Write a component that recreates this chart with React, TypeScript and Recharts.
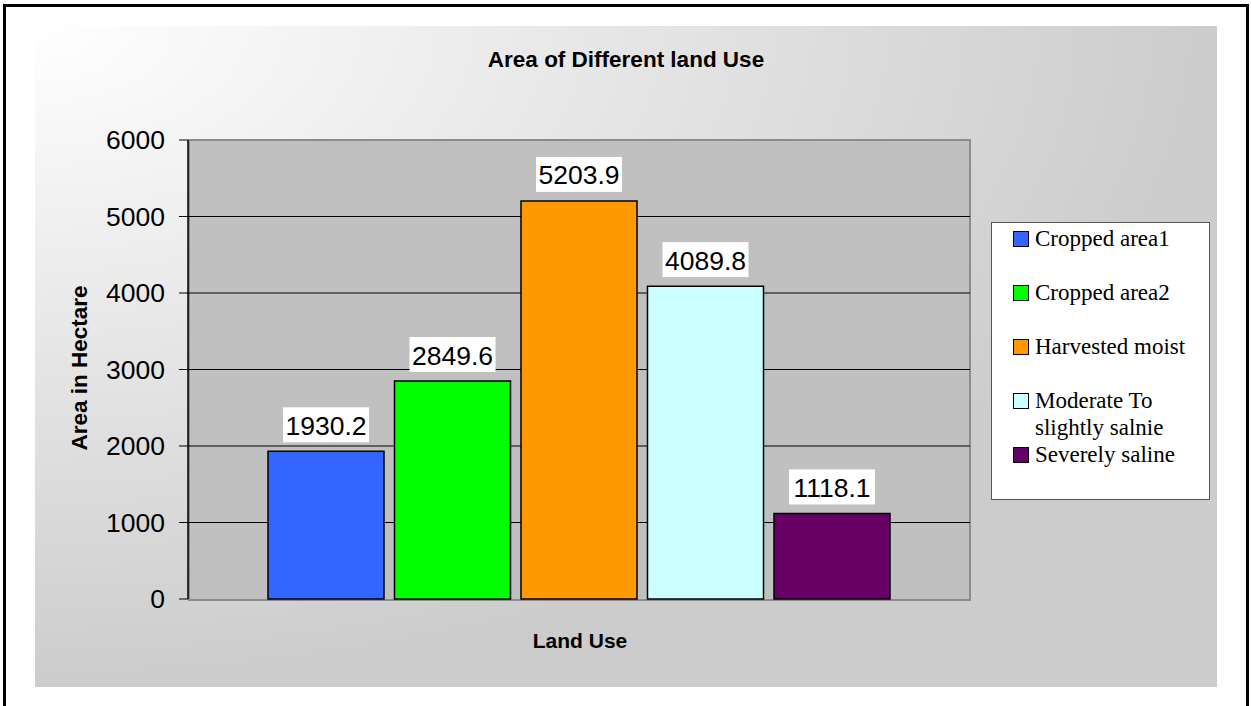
import { BarChart, Bar, XAxis, YAxis, CartesianGrid, Legend, LabelList } from "recharts";

// Chart data
const CATEGORIES = ["Land Use"];
const SERIES_NAMES = [
  "Cropped area1",
  "Cropped area2",
  "Harvested moist",
  "Moderate To slightly salnie",
  "Severely saline",
];
const SERIES_VALUES = [1930.2, 2849.6, 5203.9, 4089.8, 1118.1];
const SERIES_COLORS = ["#3366ff", "#00ff00", "#ff9900", "#ccffff", "#660066"];
const Y_TICKS = [0, 1000, 2000, 3000, 4000, 5000, 6000];

const WIDTH = 1251;
const HEIGHT = 706;
const SANS = '"Liberation Sans", Arial, sans-serif';
const SERIF = '"Liberation Serif", "Times New Roman", serif';

const data = CATEGORIES.map((name) => {
  const row: Record<string, string | number> = { name };
  SERIES_VALUES.forEach((v, i) => {
    row[`s${i}`] = v;
  });
  return row;
});

// white box with the value, sitting above the bar
function ValueLabel(props: any) {
  const { x, y, width, value } = props;
  const cx = Number(x) + Number(width) / 2;
  const boxW = 86;
  const boxH = 35;
  const top = Number(y) - 9 - boxH;
  return (
    <g>
      <rect x={cx - boxW / 2} y={top} width={boxW} height={boxH} fill="#ffffff" />
      <text
        x={cx}
        y={top + boxH / 2 + 1}
        textAnchor="middle"
        dominantBaseline="central"
        fontFamily={SANS}
        fontSize={26.5}
        fill="#000"
      >
        {value}
      </text>
    </g>
  );
}

function LegendBox() {
  return (
    <div
      style={{
        boxSizing: "border-box",
        width: 219,
        height: 278,
        background: "#fff",
        border: "1px solid #555",
        padding: "2px 8px 0 21px",
        fontFamily: SERIF,
        fontSize: 23,
        lineHeight: "27px",
        color: "#000",
      }}
    >
      {SERIES_NAMES.map((name, i) => (
        <div
          key={name}
          style={{
            display: "flex",
            alignItems: "flex-start",
            marginBottom: i < 3 ? 27 : 0,
          }}
        >
          <span
            style={{
              boxSizing: "border-box",
              flex: "0 0 16px",
              width: 16,
              height: 16,
              marginTop: 6,
              marginRight: 6,
              background: SERIES_COLORS[i],
              border: "1.5px solid #000",
            }}
          />
          <span style={{ width: 160 }}>{name}</span>
        </div>
      ))}
    </div>
  );
}

export default function App() {
  return (
    <div
      style={{
        position: "absolute",
        left: 0,
        top: 0,
        width: WIDTH,
        height: HEIGHT,
        background: "#fff",
        overflow: "hidden",
      }}
    >
      {/* outer frame */}
      <div
        style={{
          position: "absolute",
          left: 3,
          top: 4,
          width: 1246,
          height: 720,
          border: "3px solid #000",
          boxSizing: "border-box",
        }}
      />
      {/* chart area gradient */}
      <div
        style={{
          position: "absolute",
          left: 35,
          top: 26,
          width: 1182,
          height: 661,
          background: "radial-gradient(100% 100% at 0% 0%, #ffffff 0%, #cccccc 100%)",
        }}
      />
      {/* plot area */}
      <div
        style={{
          position: "absolute",
          left: 188,
          top: 139,
          width: 783,
          height: 462,
          background: "#c0c0c0",
          border: "2px solid #8c8c8c",
          boxSizing: "border-box",
        }}
      />

      <div style={{ position: "absolute", left: 0, top: 0 }}>
        <BarChart
          width={WIDTH}
          height={HEIGHT}
          data={data}
          margin={{ top: 140, right: 281, bottom: 107, left: 38 }}
          barCategoryGap={80}
          barGap={10.5}
        >
          <CartesianGrid
            vertical={false}
            horizontalValues={Y_TICKS.slice(1, -1)}
            stroke="#000"
            strokeWidth={1}
          />
          <XAxis dataKey="name" hide />
          <YAxis
            width={150}
            domain={[0, 6000]}
            ticks={Y_TICKS}
            interval={0}
            axisLine={{ stroke: "#000", strokeWidth: 1.5 }}
            tickLine={{ stroke: "#000" }}
            tickSize={9}
            tickMargin={14}
            tick={{ fontFamily: SANS, fontSize: 26.5, fill: "#000" }}
          />
          <Legend
            layout="vertical"
            align="center"
            verticalAlign="middle"
            wrapperStyle={{ left: 991, top: 222, width: 219, height: 278 }}
            content={() => <LegendBox />}
          />
          {SERIES_NAMES.map((name, i) => (
            <Bar
              key={name}
              dataKey={`s${i}`}
              name={name}
              fill={SERIES_COLORS[i]}
              stroke="#000"
              strokeWidth={1.5}
              isAnimationActive={false}
            >
              <LabelList dataKey={`s${i}`} content={ValueLabel} />
            </Bar>
          ))}
        </BarChart>
      </div>

      {/* titles */}
      <div
        style={{
          position: "absolute",
          left: 0,
          top: 47,
          width: 1252,
          textAlign: "center",
          fontFamily: SANS,
          fontWeight: "bold",
          fontSize: 22.5,
          lineHeight: "26px",
          color: "#000",
        }}
      >
        Area of Different land Use
      </div>
      <div
        style={{
          position: "absolute",
          left: 80,
          top: 368,
          transform: "translate(-50%, -50%) rotate(-90deg)",
          whiteSpace: "nowrap",
          fontFamily: SANS,
          fontWeight: "bold",
          fontSize: 22.5,
          lineHeight: "26px",
          color: "#000",
        }}
      >
        Area in Hectare
      </div>
      <div
        style={{
          position: "absolute",
          left: 580,
          top: 641,
          transform: "translate(-50%, -50%)",
          whiteSpace: "nowrap",
          fontFamily: SANS,
          fontWeight: "bold",
          fontSize: 21,
          lineHeight: "26px",
          color: "#000",
        }}
      >
        Land Use
      </div>
    </div>
  );
}
